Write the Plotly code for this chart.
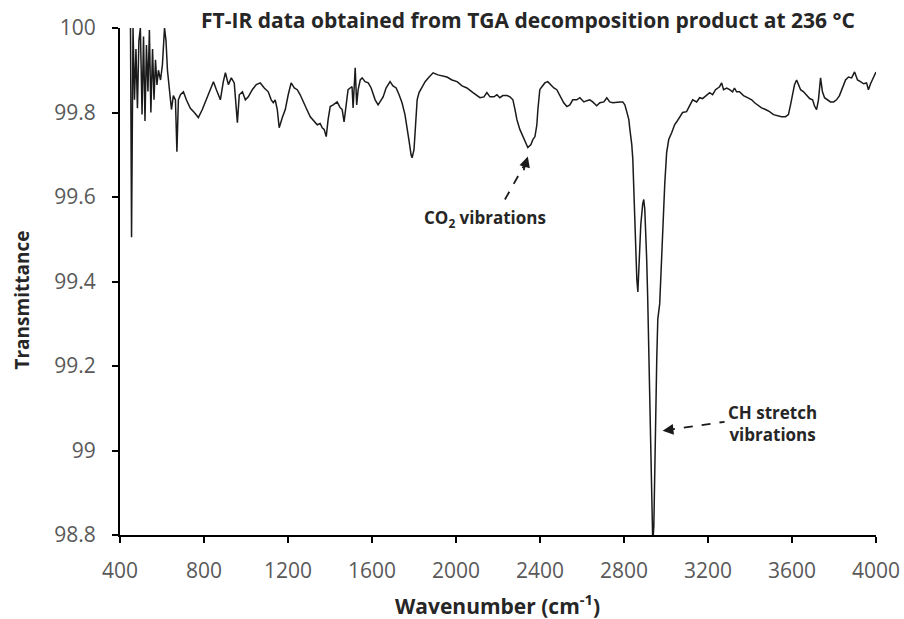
import plotly.graph_objects as go

wavenumber = [
    450, 455, 462, 469, 476, 483, 490, 497, 505, 512, 519, 526, 533, 540, 547, 555, 562, 569, 576, 583,
    593, 602, 612, 619, 626, 635, 645, 654, 664, 671, 678, 688, 702, 716, 735, 754, 773, 792, 811, 830,
    845, 859, 878, 892, 902, 916, 930, 944, 959, 968, 983, 997, 1011, 1030, 1049, 1068, 1087, 1106, 1120, 1130,
    1139, 1149, 1158, 1173, 1187, 1201, 1215, 1230, 1244, 1258, 1268, 1287, 1306, 1325, 1339, 1353, 1363, 1372, 1382, 1391,
    1401, 1415, 1434, 1449, 1458, 1467, 1477, 1486, 1496, 1505, 1510, 1520, 1527, 1534, 1544, 1553, 1567, 1582, 1596, 1615,
    1629, 1643, 1653, 1667, 1686, 1700, 1715, 1729, 1743, 1757, 1767, 1777, 1786, 1791, 1800, 1805, 1815, 1824, 1838, 1853,
    1872, 1891, 1914, 1938, 1957, 1981, 2005, 2029, 2052, 2076, 2095, 2114, 2133, 2147, 2162, 2181, 2195, 2209, 2223, 2243,
    2257, 2271, 2281, 2290, 2304, 2314, 2328, 2342, 2357, 2366, 2376, 2385, 2390, 2399, 2409, 2423, 2437, 2452, 2466, 2480,
    2494, 2513, 2528, 2542, 2556, 2575, 2590, 2609, 2623, 2637, 2651, 2670, 2685, 2704, 2718, 2732, 2747, 2766, 2780, 2794,
    2804, 2813, 2823, 2828, 2837, 2842, 2846, 2851, 2856, 2861, 2866, 2870, 2875, 2880, 2889, 2894, 2899, 2904, 2908, 2913,
    2918, 2923, 2927, 2932, 2937, 2942, 2946, 2951, 2956, 2961, 2965, 2970, 2975, 2980, 2984, 2994, 3003, 3013, 3027, 3041,
    3051, 3065, 3079, 3098, 3113, 3127, 3146, 3160, 3174, 3193, 3208, 3222, 3236, 3255, 3265, 3274, 3289, 3303, 3317, 3326,
    3336, 3350, 3369, 3388, 3408, 3422, 3436, 3455, 3474, 3493, 3512, 3531, 3550, 3569, 3583, 3593, 3603, 3612, 3622, 3631,
    3641, 3655, 3669, 3684, 3698, 3707, 3717, 3726, 3736, 3745, 3755, 3769, 3783, 3798, 3812, 3826, 3841, 3855, 3869, 3884,
    3898, 3912, 3926, 3941, 3955, 3964, 3974, 3988, 4000,
]

transmittance = [
    100.0, 99.505, 100.0, 99.83, 99.95, 99.81, 99.97, 100.0, 99.795, 99.98, 99.78, 99.96, 99.85, 99.995, 99.80, 99.95, 99.83, 99.925, 99.865, 99.90,
    99.877, 99.913, 100.0, 99.97, 99.90, 99.854, 99.807, 99.84, 99.83, 99.707, 99.83, 99.842, 99.849, 99.83, 99.81, 99.80, 99.788, 99.807, 99.83, 99.854,
    99.873, 99.854, 99.83, 99.873, 99.894, 99.866, 99.882, 99.87, 99.776, 99.842, 99.849, 99.83, 99.837, 99.854, 99.866, 99.87, 99.858, 99.849, 99.83, 99.823,
    99.83, 99.807, 99.764, 99.788, 99.807, 99.842, 99.87, 99.858, 99.854, 99.842, 99.83, 99.81, 99.79, 99.778, 99.771, 99.774, 99.764, 99.76, 99.743, 99.783,
    99.814, 99.818, 99.825, 99.811, 99.807, 99.778, 99.818, 99.854, 99.858, 99.861, 99.811, 99.906, 99.818, 99.854, 99.877, 99.882, 99.873, 99.87, 99.858, 99.83,
    99.818, 99.83, 99.837, 99.858, 99.873, 99.863, 99.858, 99.842, 99.823, 99.795, 99.767, 99.731, 99.70, 99.693, 99.712, 99.76, 99.83, 99.847, 99.858, 99.873,
    99.884, 99.894, 99.889, 99.887, 99.884, 99.877, 99.873, 99.863, 99.858, 99.849, 99.842, 99.835, 99.837, 99.847, 99.837, 99.837, 99.842, 99.835, 99.84, 99.84,
    99.837, 99.83, 99.807, 99.783, 99.76, 99.748, 99.731, 99.717, 99.724, 99.736, 99.743, 99.771, 99.807, 99.854, 99.861, 99.87, 99.873, 99.866, 99.858, 99.854,
    99.842, 99.823, 99.814, 99.818, 99.83, 99.83, 99.835, 99.825, 99.828, 99.83, 99.825, 99.816, 99.823, 99.825, 99.835, 99.825, 99.823, 99.825, 99.825, 99.825,
    99.818, 99.802, 99.783, 99.76, 99.724, 99.689, 99.618, 99.53, 99.453, 99.406, 99.375, 99.43, 99.488, 99.535, 99.583, 99.594, 99.571, 99.524, 99.453, 99.358,
    99.24, 99.123, 98.981, 98.84, 98.78, 98.82, 98.958, 99.10, 99.217, 99.311, 99.335, 99.347, 99.406, 99.476, 99.53, 99.63, 99.705, 99.736, 99.752, 99.771,
    99.778, 99.788, 99.80, 99.802, 99.818, 99.83, 99.825, 99.835, 99.833, 99.842, 99.847, 99.842, 99.854, 99.861, 99.87, 99.854, 99.858, 99.854, 99.849, 99.858,
    99.849, 99.849, 99.84, 99.835, 99.83, 99.823, 99.818, 99.811, 99.807, 99.802, 99.795, 99.792, 99.79, 99.79, 99.795, 99.818, 99.842, 99.866, 99.877, 99.866,
    99.854, 99.849, 99.84, 99.833, 99.83, 99.816, 99.807, 99.83, 99.882, 99.849, 99.835, 99.83, 99.825, 99.825, 99.83, 99.84, 99.858, 99.877, 99.884, 99.882,
    99.896, 99.877, 99.873, 99.868, 99.87, 99.854, 99.868, 99.882, 99.896,
]

x_ticks = [400, 800, 1200, 1600, 2000, 2400, 2800, 3200, 3600, 4000]
y_ticks = [98.8, 99.0, 99.2, 99.4, 99.6, 99.8, 100.0]
y_ticktext = ["98.8", "99", "99.2", "99.4", "99.6", "99.8", "100"]

title_text = "FT-IR data obtained from TGA decomposition product at 236 °C"
x_title = "Wavenumber (cm<sup>-1</sup>)"
y_title = "Transmittance"
co2_label = "CO<sub>2</sub> vibrations"
ch_label = "CH stretch<br>vibrations"

W, H = 904, 619
L, R, T, B = 119.5, 28, 28, 84
pw, ph = W - L - R, H - T - B


def px(x):
    return (x - L) / pw


def py(y):
    return 1 - (y - T) / ph


FONT = "Open Sans"
DARK = "#262626"
fig = go.Figure()
fig.add_trace(go.Scatter(
    x=wavenumber, y=transmittance, mode="lines",
    line=dict(color="#1a1a1a", width=1.5),
    hoverinfo="x+y", showlegend=False,
))

axis_common = dict(
    showgrid=False, zeroline=False, showline=True, linecolor="#000000", linewidth=2,
    ticks="outside", ticklen=6, tickwidth=1.5, tickcolor="#000000",
    tickfont=dict(family=FONT, size=21, color="#595959"), mirror=False, automargin=False,
)

fig.update_layout(
    width=W, height=H,
    margin=dict(l=L, r=R, t=T, b=B, pad=0, autoexpand=False),
    paper_bgcolor="white", plot_bgcolor="white",
    xaxis=dict(range=[400, 4000], tickvals=x_ticks, ticklabelstandoff=10, **axis_common),
    yaxis=dict(range=[98.8, 100], tickvals=y_ticks, ticktext=y_ticktext, ticklabelstandoff=12, **axis_common),
    font=dict(family=FONT),
)

annotations = [
    dict(text="<b>" + title_text + "</b>", x=px(528), y=py(20), xref="paper", yref="paper",
         showarrow=False, font=dict(family=FONT, size=21, color=DARK), xanchor="center", yanchor="middle"),
    dict(text="<b>" + x_title + "</b>", x=px(497), y=py(604), xref="paper", yref="paper",
         showarrow=False, font=dict(family=FONT, size=21, color=DARK), xanchor="center", yanchor="middle"),
    dict(text="<b>" + y_title + "</b>", x=px(21), y=py(300), xref="paper", yref="paper", textangle=-90,
         showarrow=False, font=dict(family=FONT, size=19, color=DARK), xanchor="center", yanchor="middle"),
    dict(text="<b>" + co2_label + "</b>", x=2140, y=99.548, xref="x", yref="y",
         showarrow=False, font=dict(family=FONT, size=17, color=DARK), xanchor="center", yanchor="middle"),
    dict(text="<b>" + ch_label + "</b>", x=3505, y=99.065, xref="x", yref="y",
         showarrow=False, font=dict(family=FONT, size=17, color=DARK), xanchor="center", yanchor="middle",
         align="center"),
    # arrowheads
    dict(x=2342, y=99.696, ax=2320, ay=99.66, xref="x", yref="y", axref="x", ayref="y",
         text="", showarrow=True, arrowhead=2, arrowsize=1.2, arrowwidth=1.8, arrowcolor="#1a1a1a"),
    dict(x=2984, y=99.047, ax=3020, ay=99.049, xref="x", yref="y", axref="x", ayref="y",
         text="", showarrow=True, arrowhead=2, arrowsize=1.2, arrowwidth=1.8, arrowcolor="#1a1a1a"),
]
fig.update_layout(annotations=annotations)

fig.add_shape(type="line", x0=2233, y0=99.594, x1=2330, y1=99.68, xref="x", yref="y",
              line=dict(color="#1a1a1a", width=1.8, dash="dash"))
fig.add_shape(type="line", x0=3000, y0=99.048, x1=3279, y1=99.068, xref="x", yref="y",
              line=dict(color="#1a1a1a", width=1.8, dash="dash"))

fig.write_html("out.html")
